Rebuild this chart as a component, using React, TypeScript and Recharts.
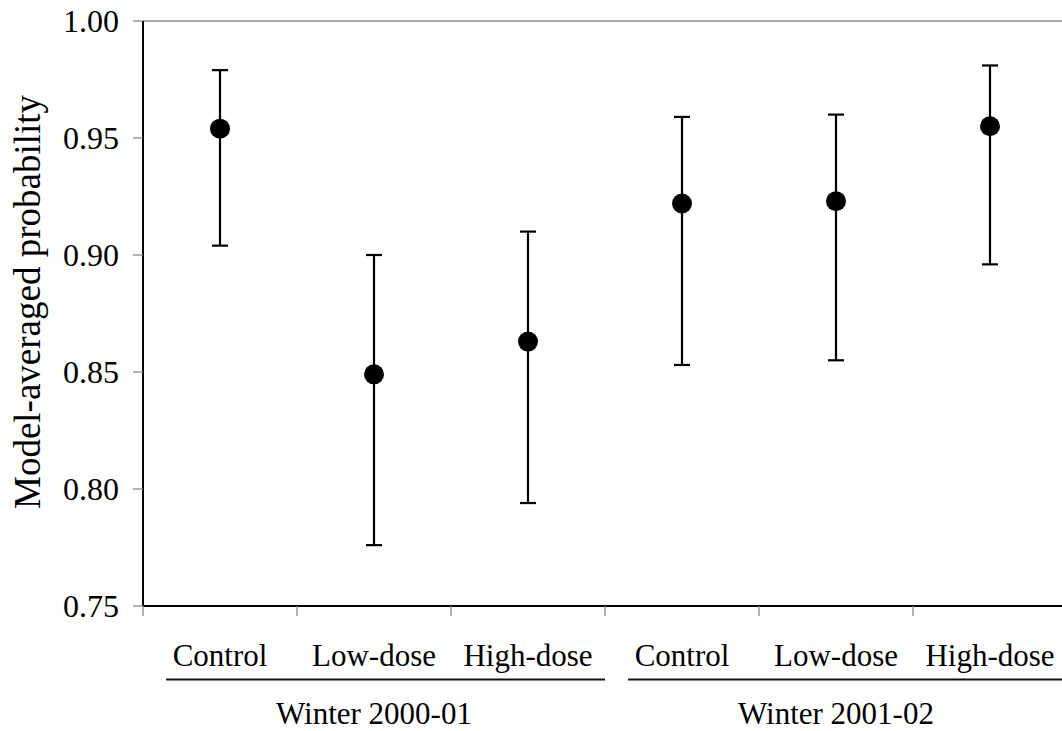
import React from "react";
import { ScatterChart, Scatter, XAxis, YAxis, ErrorBar, ReferenceLine, Label } from "recharts";

// ---- data ----
const categories = ["Control", "Low-dose", "High-dose", "Control", "Low-dose", "High-dose"];
const groups = ["Winter 2000-01", "Winter 2001-02"];
const means = [0.954, 0.849, 0.863, 0.922, 0.923, 0.955];
const lower = [0.904, 0.776, 0.794, 0.853, 0.855, 0.896];
const upper = [0.979, 0.9, 0.91, 0.959, 0.96, 0.981];
const yTicks = [0.75, 0.8, 0.85, 0.9, 0.95, 1.0];
const xTicks = [0, 1, 2, 3, 4, 5, 6];

const rows = categories.map((c, i) => ({
  x: i + 0.5,
  name: c,
  mean: means[i],
  err: [means[i] - lower[i], upper[i] - means[i]],
}));

// ---- layout ----
const W = 1080;
const H = 731;
const Y_AXIS_W = 143;
const M_RIGHT = 13;
const M_TOP = 21;
const X_AXIS_H = 125;
const BAND = (W - Y_AXIS_W - M_RIGHT) / categories.length;
const FONT = "Liberation Serif, Tinos, Times New Roman, DejaVu Serif, serif";
const GRAY = "#8a8a8a";

const XTick = (props: any) => {
  const { x, y, payload } = props;
  const v = payload.value as number;
  const parts: React.ReactNode[] = [];
  if (v < categories.length) {
    parts.push(
      <text key="c" x={x + BAND / 2} y={y + 50} textAnchor="middle" fill="#000" style={{ fontFamily: FONT, fontSize: 31 }}>
        {categories[v]}
      </text>
    );
  }
  if (v % 3 === 0 && v / 3 < groups.length) {
    const g = v / 3;
    parts.push(
      <line key="l" x1={x + BAND * 0.15} x2={x + BAND * 3} y1={y + 63.5} y2={y + 63.5} stroke="#111" strokeWidth={2} />
    );
    parts.push(
      <text key="g" x={x + BAND * 1.5} y={y + 108} textAnchor="middle" fill="#000" style={{ fontFamily: FONT, fontSize: 31 }}>
        {groups[g]}
      </text>
    );
  }
  return <g>{parts}</g>;
};

const YLabel = (props: any) => {
  const vb = props.viewBox || { x: 0, y: 0, width: 0, height: 0 };
  const cx = vb.x + 39.5;
  const cy = vb.y + vb.height / 2 - 11.5;
  return (
    <text x={cx} y={cy} transform={`rotate(-90, ${cx}, ${cy})`} textAnchor="middle" fill="#000" style={{ fontFamily: FONT, fontSize: 37 }}>
      Model-averaged probability
    </text>
  );
};

const Dot = (props: any) => <circle cx={props.cx} cy={props.cy} r={10} fill="#000" />;

export default function App() {
  return (
    <div style={{ position: "absolute", left: 0, top: 0, width: 1062, height: 731, overflow: "hidden", background: "#fff", fontFamily: FONT }}>
      <ScatterChart width={W} height={H} margin={{ top: M_TOP, right: M_RIGHT, left: 0, bottom: 0 }} style={{ fontFamily: FONT }}>
        <XAxis
          type="number"
          dataKey="x"
          domain={[0, 6]}
          ticks={xTicks}
          interval={0}
          height={X_AXIS_H}
          tickSize={10}
          tickMargin={0}
          tickLine={{ stroke: GRAY, strokeWidth: 1.3 }}
          axisLine={{ stroke: "#000", strokeWidth: 2 }}
          tick={<XTick />}
        />
        <YAxis
          type="number"
          dataKey="mean"
          domain={[0.75, 1.0]}
          ticks={yTicks}
          interval={0}
          width={Y_AXIS_W}
          tickSize={10}
          tickMargin={14}
          tickFormatter={(v: number) => v.toFixed(2)}
          tick={{ fill: "#000", fontSize: 32, style: { fontFamily: FONT, fontSize: 32 } }}
          tickLine={{ stroke: GRAY, strokeWidth: 1.3 }}
          axisLine={{ stroke: "#000", strokeWidth: 2 }}
        >
          <Label content={<YLabel />} />
        </YAxis>
        <ReferenceLine y={1.0} stroke={GRAY} strokeWidth={1.5} />
        <Scatter data={rows} fill="#000" shape={<Dot />} isAnimationActive={false}>
          <ErrorBar dataKey="err" direction="y" width={8} stroke="#000" strokeWidth={2.2} isAnimationActive={false} />
        </Scatter>
      </ScatterChart>
    </div>
  );
}
